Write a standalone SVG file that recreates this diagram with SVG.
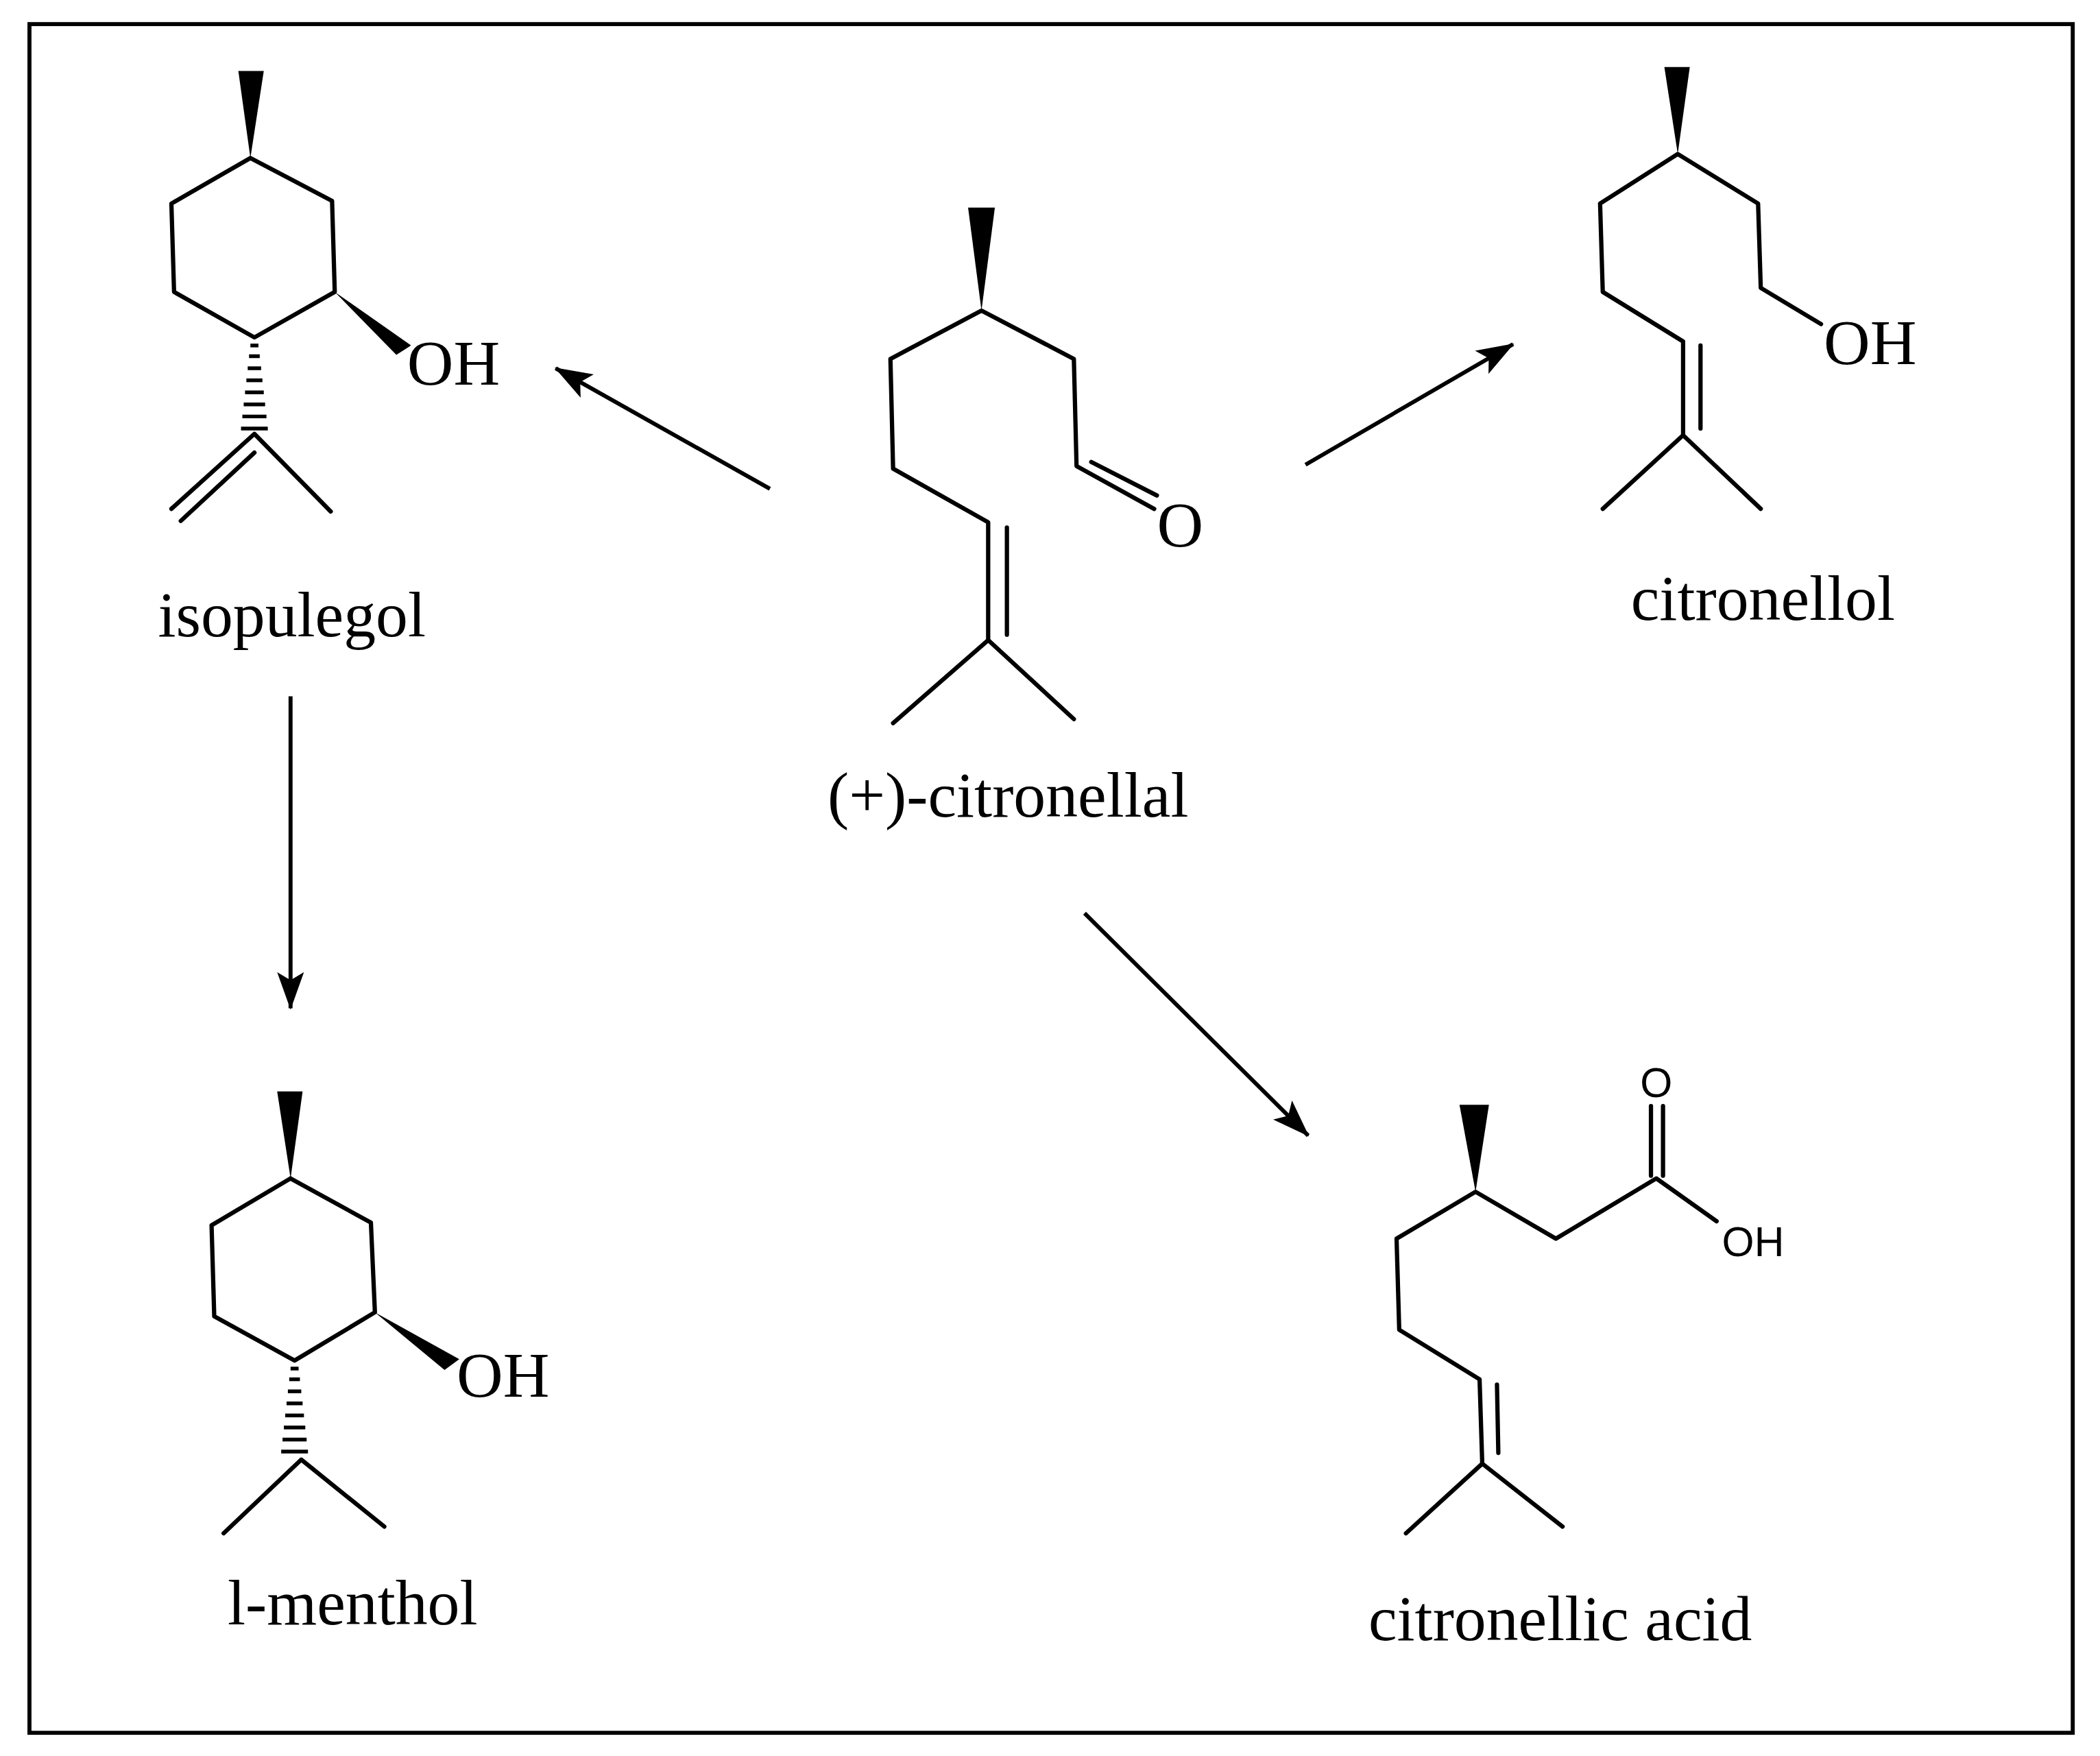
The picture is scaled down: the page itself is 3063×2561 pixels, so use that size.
<svg xmlns="http://www.w3.org/2000/svg" width="3063" height="2561" viewBox="0 0 3063 2561">
<style>
.b{fill:none;stroke:#000;stroke-width:3.2;stroke-linecap:round;stroke-linejoin:round}
.w{fill:#000;stroke:none}
.h{stroke:#000;stroke-width:2.8}
.t{font-family:"Liberation Serif",serif;font-size:48px;fill:#000}
.s{font-family:"Liberation Sans",sans-serif;font-size:31px;fill:#000}
.a{fill:none;stroke:#000;stroke-width:3}
</style>
<defs><marker id="ah" viewBox="0 0 28 20" refX="27" refY="10" markerWidth="28" markerHeight="20" markerUnits="userSpaceOnUse" orient="auto"><path d="M0,0 L28,10 L0,20 L6,10 Z" fill="#000"/></marker></defs>
<rect width="3063" height="2561" fill="#fff"/>
<g transform="scale(1.953)">
<rect x="22" y="18" width="1526" height="1276" fill="none" stroke="#000" stroke-width="3"/>
<g id="isopulegol">
<polygon class="w" points="178,53 197,53 187,118"/>
<polyline class="b" points="187,118 248,150 250,218 190,252 130,218 128,152 187,118"/>
<polygon class="w" points="250,218 307,258 296,265"/>
<text class="t" x="304" y="287">OH</text>
<g class="h"><line x1="187" y1="258" x2="193" y2="258"/><line x1="186" y1="266" x2="194" y2="266"/><line x1="185" y1="275" x2="195" y2="275"/><line x1="184" y1="284" x2="196" y2="284"/><line x1="183" y1="293" x2="197" y2="293"/><line x1="182" y1="302" x2="198" y2="302"/><line x1="181" y1="311" x2="199" y2="311"/><line x1="180" y1="320" x2="200" y2="320"/></g>
<polyline class="b" points="128,380 190,324 247,382"/>
<line class="b" x1="135" y1="389" x2="190" y2="338"/>
<text class="t" x="118" y="475">isopulegol</text>
</g>
<g id="citronellal">
<polygon class="w" points="723,155 743,155 733,232"/>
<polyline class="b" points="667,540 738,478 738,390 667,350 665,268 733,232 802,268 804,348 862,380"/>
<line class="b" x1="738" y1="478" x2="802" y2="537"/>
<line class="b" x1="752" y1="394" x2="752" y2="474"/>
<line class="b" x1="815" y1="345" x2="864" y2="370"/>
<text class="t" x="864" y="408">O</text>
<text class="t" x="618" y="610">(+)-citronellal</text>
</g>
<g id="citronellol">
<polygon class="w" points="1243,50 1262,50 1253,115"/>
<polyline class="b" points="1197,380 1257,325 1257,255 1197,218 1195,152 1253,115 1313,152 1315,215 1360,242"/>
<line class="b" x1="1257" y1="325" x2="1315" y2="380"/>
<line class="b" x1="1270" y1="258" x2="1270" y2="320"/>
<text class="t" x="1362" y="272">OH</text>
<text class="t" x="1218" y="463">citronellol</text>
</g>
<g id="menthol">
<polygon class="w" points="207,815 226,815 217,880"/>
<polyline class="b" points="217,880 277,913 280,980 220,1016 160,983 158,915 217,880"/>
<polygon class="w" points="280,980 343,1015 332,1023"/>
<text class="t" x="341" y="1043">OH</text>
<g class="h"><line x1="217" y1="1022" x2="223" y2="1022"/><line x1="216" y1="1030" x2="224" y2="1030"/><line x1="215" y1="1039" x2="225" y2="1039"/><line x1="214" y1="1048" x2="226" y2="1048"/><line x1="213" y1="1057" x2="227" y2="1057"/><line x1="212" y1="1066" x2="228" y2="1066"/><line x1="211" y1="1075" x2="229" y2="1075"/><line x1="210" y1="1084" x2="230" y2="1084"/></g>
<polyline class="b" points="167,1145 225,1090 287,1140"/>
<text class="t" x="170" y="1213">l-menthol</text>
</g>
<g id="citronellic-acid">
<polygon class="w" points="1090,825 1112,825 1102,890"/>
<polyline class="b" points="1050,1145 1107,1093 1105,1030 1045,993 1043,925 1102,890 1162,925 1237,880 1282,912"/>
<line class="b" x1="1107" y1="1093" x2="1167" y2="1140"/>
<line class="b" x1="1118" y1="1034" x2="1119" y2="1085"/>
<line class="b" x1="1233" y1="878" x2="1233" y2="826"/>
<line class="b" x1="1242" y1="878" x2="1242" y2="826"/>
<text class="s" x="1237" y="819" text-anchor="middle">O</text>
<text class="s" x="1286" y="938">OH</text>
<text class="t" x="1022" y="1225">citronellic acid</text>
</g>
<g id="connectors">
<line class="a" x1="575" y1="365" x2="415" y2="275" marker-end="url(#ah)"/>
<line class="a" x1="975" y1="347" x2="1130" y2="257" marker-end="url(#ah)"/>
<line class="a" x1="810" y1="682" x2="977" y2="848" marker-end="url(#ah)"/>
<line class="a" x1="217" y1="520" x2="217" y2="753" marker-end="url(#ah)"/>
</g>
</g>
</svg>
